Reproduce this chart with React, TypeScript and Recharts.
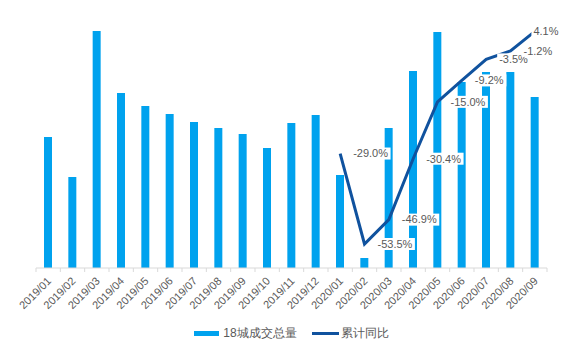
import React from "react";
import {
  ComposedChart,
  Bar,
  Line,
  XAxis,
  YAxis,
  Legend,
  LabelList,
} from "recharts";

const months = [
  "2019/01", "2019/02", "2019/03", "2019/04", "2019/05", "2019/06", "2019/07",
  "2019/08", "2019/09", "2019/10", "2019/11", "2019/12", "2020/01", "2020/02",
  "2020/03", "2020/04", "2020/05", "2020/06", "2020/07", "2020/08", "2020/09",
];

// 18城成交总量
const volume = [
  655, 455, 1185, 875, 810, 770, 730, 700, 670, 600, 725, 765, 465, 50, 700,
  985, 1180, 930, 980, 980, 855,
];

// 累计同比 (%), only from 2020/01
const yoy: (number | null)[] = [
  null, null, null, null, null, null, null, null, null, null, null, null,
  -29.0, -53.5, -46.9, -30.4, -15.0, -9.2, -3.5, -1.2, 4.1,
];

const BAR_COLOR = "#00a2ee";
const LINE_COLOR = "#10529e";
const TEXT_COLOR = "#595959";
const AXIS_COLOR = "#d9d9d9";
const FONT = "'Liberation Sans', Arial, sans-serif";
const CHART_W = 565;

const data = months.map((m, i) => ({ month: m, volume: volume[i], yoy: yoy[i] }));

function PctLabel(props: any) {
  const { x, y, value } = props;
  if (value === null || value === undefined) return null;
  const text = `${Number(value).toFixed(1)}%`;
  const w = text.length * 5.9;
  let start = x + 13;
  if (start + w > CHART_W - 8) start = CHART_W - 8 - w;
  return (
    <g>
      <rect x={start - 2} y={y - 6} width={w + 4} height={12} fill="#fff" />
      <text
        x={start}
        y={y}
        dy="0.35em"
        fontSize={11}
        fontFamily={FONT}
        fill={TEXT_COLOR}
        textAnchor="start"
      >
        {text}
      </text>
    </g>
  );
}

function MonthTick(props: any) {
  const { x, y, payload, index, visibleTicksCount } = props;
  const half = payload && payload.offset ? payload.offset : 12.17;
  const axisY = y - 8;
  const last = index === (visibleTicksCount ?? months.length) - 1;
  return (
    <g>
      <line x1={x - half} x2={x - half} y1={axisY} y2={axisY + 4} stroke={AXIS_COLOR} />
      {last && (
        <line x1={x + half} x2={x + half} y1={axisY} y2={axisY + 4} stroke={AXIS_COLOR} />
      )}
      <g transform={`translate(${x + 1},${y + 3})`}>
        <text
          transform="rotate(-45)"
          textAnchor="end"
          dy="0.35em"
          fontSize={11}
          fontFamily={FONT}
          fill={TEXT_COLOR}
        >
          {payload.value}
        </text>
      </g>
    </g>
  );
}

function LegendBox() {
  return (
    <div
      style={{
        height: 24,
        display: "flex",
        justifyContent: "center",
        alignItems: "center",
        fontFamily: FONT,
        fontSize: 12,
        color: TEXT_COLOR,
      }}
    >
      <span style={{ display: "inline-block", width: 25, height: 5, background: BAR_COLOR, marginRight: 4 }} />
      <span style={{ marginRight: 15 }}>18城成交总量</span>
      <span style={{ display: "inline-block", width: 27, height: 3, background: LINE_COLOR, marginRight: 2 }} />
      <span>累计同比</span>
    </div>
  );
}

export default function App() {
  return (
    <div style={{ position: "absolute", left: 0, top: 0, width: CHART_W, height: 355, background: "#fff" }}>
      <ComposedChart
        width={CHART_W}
        height={355}
        data={data}
        margin={{ top: 28, right: 18, left: 36, bottom: 10 }}
      >
        <XAxis
          dataKey="month"
          interval={0}
          height={53}
          tickLine={false}
          axisLine={{ stroke: AXIS_COLOR }}
          tick={<MonthTick />}
        />
        <YAxis yAxisId="left" hide domain={[0, 1200]} />
        <YAxis yAxisId="right" orientation="right" hide domain={[-60, 5]} />
        <Bar
          yAxisId="left"
          dataKey="volume"
          name="18城成交总量"
          fill={BAR_COLOR}
          barSize={8}
          isAnimationActive={false}
        />
        {/* labels first, so the line is drawn over their white boxes */}
        <Line
          yAxisId="right"
          dataKey="yoy"
          stroke="none"
          dot={false}
          activeDot={false}
          legendType="none"
          isAnimationActive={false}
        >
          <LabelList dataKey="yoy" content={<PctLabel />} />
        </Line>
        <Line
          yAxisId="right"
          dataKey="yoy"
          name="累计同比"
          stroke={LINE_COLOR}
          strokeWidth={3}
          dot={false}
          activeDot={false}
          isAnimationActive={false}
        />
        <Legend verticalAlign="bottom" content={<LegendBox />} />
      </ComposedChart>
    </div>
  );
}
